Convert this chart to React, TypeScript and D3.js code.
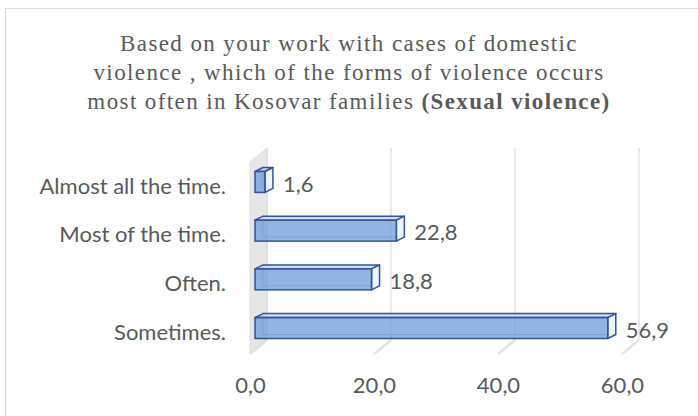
import React, { useRef, useEffect } from "react";
import { select, scaleLinear, scaleBand, axisBottom, formatLocale } from "d3";

const categories = ["Almost all the time.", "Most of the time.", "Often.", "Sometimes."];
const values = [1.6, 22.8, 18.8, 56.9];
const tickValues = [0, 20, 40, 60];
const titleLines = [
  "Based on your work with cases of domestic",
  "violence , which of the forms of violence occurs",
  "most often in Kosovar families ",
];
const titleBold = "(Sexual violence)";

const W = 698;
const H = 416;
const textColor = "#595959";
const sansFont = "Lato, 'Open Sans', sans-serif";
const labelSize = 22;

// Excel-style comma decimals
const fmt = formatLocale({ decimal: ",", thousands: ".", grouping: [3], currency: ["", ""] }).format(".1f");

function App() {
  const svgRef = useRef<SVGSVGElement>(null);

  useEffect(() => {
    const svg = select(svgRef.current);
    svg.selectAll("*").remove();

    // front plane of the bars
    const x = scaleLinear().domain([0, 60]).range([255, 627]);
    // back wall plane (gridlines) and front floor edge (tick labels)
    const xBack = scaleLinear().domain([0, 60]).range([267, 639]);
    const xFloor = scaleLinear().domain([0, 60]).range([250, 622]);
    const y = scaleBand()
      .domain(categories)
      .range([157.6, 352.4])
      .paddingInner(0.57)
      .paddingOuter(0.285);
    const bw = y.bandwidth();
    const dx = 8, dy = -4; // bar depth
    const wallTop = 148, wallBottom = 340;
    const fdx = -17, fdy = 14; // floor depth (back -> front)

    // chart border
    svg.append("rect")
      .attr("x", 5.5).attr("y", 8.5)
      .attr("width", W + 20).attr("height", H + 20)
      .attr("fill", "white")
      .attr("stroke", "#d9d9d9");

    // title
    const title = svg.append("text")
      .attr("text-anchor", "middle")
      .attr("font-family", "'Liberation Serif', 'Times New Roman', serif")
      .attr("font-size", 23)
      .attr("letter-spacing", 1.4)
      .attr("fill", textColor);
    titleLines.forEach((line, i) => {
      title.append("tspan").attr("x", 349).attr("y", 51 + i * 29).text(line);
      if (i === titleLines.length - 1) {
        title.append("tspan").attr("font-weight", "bold").text(titleBold);
      }
    });

    // side wall
    const x0 = xBack(0);
    svg.append("path")
      .attr("d", `M${x0 + fdx},${wallTop + 14} L${x0},${wallTop} L${x0},${wallBottom} L${x0 + fdx},${wallBottom + fdy} Z`)
      .attr("fill", "#e6e6e6")
      .attr("stroke", "#d9d9d9")
      .attr("stroke-width", 0.8);

    // gridlines on back wall + floor lines
    tickValues.forEach((t) => {
      const xb = xBack(t);
      svg.append("line")
        .attr("x1", xb).attr("x2", xb)
        .attr("y1", wallTop).attr("y2", wallBottom)
        .attr("stroke", "#d9d9d9").attr("stroke-width", 1.2);
      svg.append("line")
        .attr("x1", xb).attr("y1", wallBottom)
        .attr("x2", xb + fdx).attr("y2", wallBottom + fdy)
        .attr("stroke", "#d4d4d4").attr("stroke-width", 2.2);
      svg.append("line")
        .attr("x1", xb).attr("y1", wallBottom)
        .attr("x2", xb + fdx).attr("y2", wallBottom + fdy)
        .attr("stroke", "#f4f4f4").attr("stroke-width", 0.8);
    });

    // x axis labels
    const xAxis = axisBottom(xFloor).tickValues(tickValues).tickSize(0).tickFormat((d) => fmt(d));
    const gx = svg.append("g")
      .attr("transform", `translate(0, 374.5)`)
      .call(xAxis);
    gx.select(".domain").remove();
    gx.selectAll("text")
      .attr("font-family", sansFont)
      .attr("font-size", labelSize)
      .attr("fill", textColor);

    // category labels
    svg.selectAll(".cat")
      .data(categories)
      .join("text")
      .attr("class", "cat")
      .attr("x", 226)
      .attr("y", (c) => y(c) + bw / 2 + 4)
      .attr("dy", "0.35em")
      .attr("text-anchor", "end")
      .attr("font-family", sansFont)
      .attr("font-size", labelSize)
      .attr("fill", textColor)
      .text((c) => c);

    // 3D bars
    const data = categories.map((c, i) => ({ c, v: values[i] }));
    const stroke = "#2f5597";
    const bars = svg.selectAll(".bar")
      .data(data)
      .join("g")
      .attr("class", "bar");

    // hidden back edges, seen through the glass
    bars.append("path")
      .attr("d", (d) => {
        const xl = x(0), xr = x(d.v), yt = y(d.c), yb = yt + bw;
        return `M${xl + dx},${yt + dy} L${xl + dx},${yb + dy} L${xr + dx},${yb + dy}`;
      })
      .attr("fill", "none")
      .attr("stroke", stroke)
      .attr("stroke-opacity", 0.55)
      .attr("stroke-width", 1);

    // top face
    bars.append("path")
      .attr("d", (d) => {
        const xl = x(0), xr = x(d.v), yt = y(d.c);
        return `M${xl},${yt} L${xl + dx},${yt + dy} L${xr + dx},${yt + dy} L${xr},${yt} Z`;
      })
      .attr("fill", "#c9d7f0")
      .attr("fill-opacity", 0.8)
      .attr("stroke", stroke)
      .attr("stroke-width", 1.5)
      .attr("stroke-linejoin", "round");

    // right end face
    bars.append("path")
      .attr("d", (d) => {
        const xr = x(d.v), yt = y(d.c), yb = yt + bw;
        return `M${xr},${yt} L${xr + dx},${yt + dy} L${xr + dx},${yb + dy} L${xr},${yb} Z`;
      })
      .attr("fill", "#eef2fa")
      .attr("fill-opacity", 0.9)
      .attr("stroke", stroke)
      .attr("stroke-width", 1.5)
      .attr("stroke-linejoin", "round");

    // front face
    bars.append("rect")
      .attr("x", x(0))
      .attr("y", (d) => y(d.c))
      .attr("width", (d) => x(d.v) - x(0))
      .attr("height", bw)
      .attr("fill", "#7b9fdf")
      .attr("fill-opacity", 0.8)
      .attr("stroke", stroke)
      .attr("stroke-width", 1.5);

    // value labels
    svg.selectAll(".val")
      .data(data)
      .join("text")
      .attr("class", "val")
      .attr("x", (d) => x(d.v) + dx + 10)
      .attr("y", (d) => y(d.c) + bw / 2 + 2)
      .attr("dy", "0.35em")
      .attr("font-family", sansFont)
      .attr("font-size", labelSize)
      .attr("fill", textColor)
      .text((d) => fmt(d.v));
  }, []);

  return (
    <svg ref={svgRef} width={W} height={H} style={{ position: "absolute", left: 0, top: 0 }} />
  );
}

export default App;
